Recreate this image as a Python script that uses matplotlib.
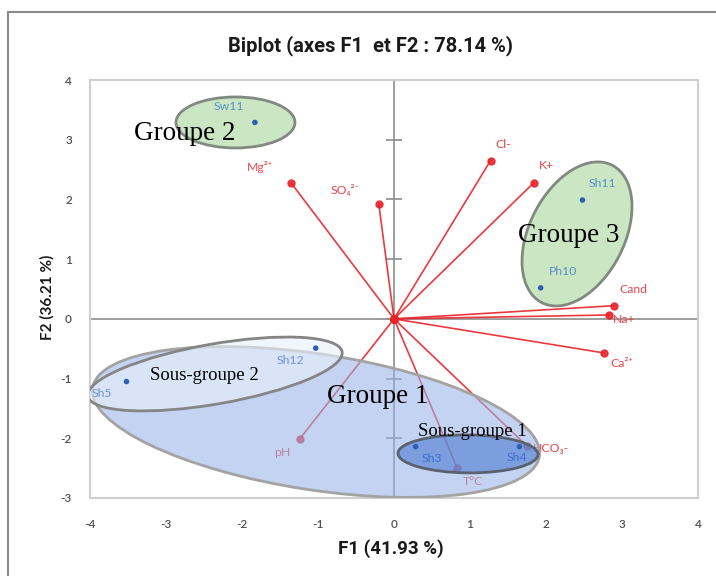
import numpy as np
import matplotlib
matplotlib.use("Agg")
import matplotlib.pyplot as plt
from matplotlib.patches import Ellipse
from matplotlib.transforms import Affine2D
from matplotlib.lines import Line2D

plt.rcParams["axes.unicode_minus"] = False

# ---------------- data ----------------
obs_names = ["Sw11", "Sh11", "Ph10", "Sh12", "Sh5", "Sh3", "Sh4"]
obs_f1 = [-1.83, 2.48, 1.93, -1.03, -3.52, 0.285, 1.65]
obs_f2 = [3.29, 1.99, 0.52, -0.49, -1.05, -2.14, -2.14]

var_names = ["Mg²⁺", "SO₄²⁻", "Cl-", "K+", "Cand", "Na+", "Ca²⁺", "HCO₃-", "T°C", "pH"]
var_f1 = [-1.35, -0.20, 1.27, 1.84, 2.89, 2.83, 2.76, 1.75, 0.83, -1.24]
var_f2 = [2.27, 1.92, 2.65, 2.28, 0.22, 0.065, -0.57, -2.13, -2.49, -2.01]

x_ticks = [-4, -3, -2, -1, 0, 1, 2, 3, 4]
y_ticks = [-3, -2, -1, 0, 1, 2, 3, 4]

title = "Biplot (axes F1  et F2 : 78.14 %)"
xlabel = "F1 (41.93 %)"
ylabel = "F2 (36.21 %)"

# ---------------- layout / style ----------------
W, H = 716, 576
fig = plt.figure(figsize=(W / 100, H / 100), dpi=100)
L, R, T, B = 90, 698, 80, 498
ax = fig.add_axes([L / W, 1 - B / H, (R - L) / W, (B - T) / H])
ax.set_xlim(-4, 4)
ax.set_ylim(-3, 4)
kx = (R - L) / 8.0   # px per unit
ky = (B - T) / 7.0

# outer frame lines (top + left)
fig.add_artist(Line2D([8 / W, 1], [1 - 12 / H, 1 - 12 / H], color="#8a8a8a", lw=1.5))
fig.add_artist(Line2D([8 / W, 8 / W], [0, 1 - 12 / H], color="#8a8a8a", lw=1.5))

for s in ax.spines.values():
    s.set_color("#cfcfcf")
    s.set_linewidth(1.5)

label_font = ["Lato", "DejaVu Sans"]
ax.set_xticks(x_ticks)
ax.set_yticks(y_ticks)
ax.tick_params(length=0, colors="#505050", labelsize=8.5)
ax.tick_params(axis="x", pad=15)
ax.tick_params(axis="y", pad=13)
for lab in ax.get_xticklabels() + ax.get_yticklabels():
    lab.set_family(label_font)
    lab.set_fontweight("semibold")

# zero lines with crossing ticks on the vertical one
ax.axhline(0, color="#8c8c8c", lw=1.2, zorder=1)
ax.axvline(0, color="#8c8c8c", lw=1.2, zorder=1)
ax.plot([0] * len(y_ticks), y_ticks, ls="none", marker="_", ms=12, mew=1.2,
        color="#8c8c8c", clip_on=False, zorder=1)

# variable vectors
red = "#e8242a"
for x, y in zip(var_f1, var_f2):
    ax.plot([0, x], [0, y], color=red, lw=1.2, alpha=0.9, zorder=2,
            marker="o", ms=5, markevery=[0, 1])

var_offsets = [(-32, 16), (-34, 14), (13, 16), (13, 17), (20, 16), (15, -5),
               (18, -11), (6, -2), (16, -14), (-18, -14)]
for name, x, y, (dx, dy) in zip(var_names, var_f1, var_f2, var_offsets):
    ha = "left" if name.startswith("HCO") else "center"
    ax.annotate(name, (x, y), xytext=(dx * 0.72, dy * 0.72), textcoords="offset points",
                ha=ha, va="center", fontsize=8.8, color="#e8474a",
                family=label_font, zorder=2.5)

# observations (above the group shapes)
ax.scatter(obs_f1, obs_f2, s=16, color="#2f5fb3", zorder=4, edgecolors="none")
obs_offsets = [(-26, 16), (20, 17), (22, 16), (-25, -12), (-25, -12), (16, -12), (-3, -11)]
obs_colors = ["#5b90c8", "#5b90c8", "#5b90c8", "#6a92d8", "#6a92d8", "#3f6fcf", "#3f6fcf"]
for name, x, y, (dx, dy), c in zip(obs_names, obs_f1, obs_f2, obs_offsets, obs_colors):
    ax.annotate(name, (x, y), xytext=(dx * 0.72, dy * 0.72), textcoords="offset points",
                ha="center", va="center", fontsize=8.8, color=c,
                family=label_font, zorder=4)

# group ellipses (centre in data units, semi-axes in px, angle in screen degrees)
def add_ellipse(cx, cy, a_px, b_px, ang, fc, alpha, ec, lw, z):
    tr = Affine2D().scale(1 / kx, 1 / ky).translate(cx, cy) + ax.transData
    e = Ellipse((0, 0), 2 * a_px, 2 * b_px, angle=ang, transform=tr,
                facecolor=matplotlib.colors.to_rgba(fc, alpha), edgecolor=ec,
                lw=lw, zorder=z)
    ax.add_patch(e)

add_ellipse(-1.026, -1.727, 226, 68, -8.7, "#98b4e8", 0.58, "#a3a3a3", 2.0, 3)
add_ellipse(-2.355, -0.923, 129, 30, 9.9, "#e9f0fb", 0.6, "#858585", 2.0, 3.1)
add_ellipse(0.974, -2.261, 70, 19, -0.5, "#4d7bd4", 0.6, "#5a6270", 2.0, 3.2)
add_ellipse(-2.086, 3.289, 59.5, 25.5, 0, "#bfe0b4", 0.8, "#808a80", 2.0, 3)
add_ellipse(2.408, 1.422, 77.2, 47.5, 62.9, "#bfe0b4", 0.8, "#808a80", 2.0, 3)

serif = ["Liberation Serif", "DejaVu Serif"]
ax.text(-2.75, 3.00, "Groupe 2", fontsize=19.5, family=serif, ha="center", va="baseline", zorder=5)
ax.text(2.30, 1.29, "Groupe 3", fontsize=19.5, family=serif, ha="center", va="baseline", zorder=5)
ax.text(-0.22, -1.41, "Groupe 1", fontsize=19.5, family=serif, ha="center", va="baseline", zorder=5)
ax.text(-2.49, -1.02, "Sous-groupe 2", fontsize=13.5, family=serif, ha="center", va="baseline", zorder=5)
ax.text(1.03, -1.97, "Sous-groupe 1", fontsize=13.5, family=serif, ha="center", va="baseline", zorder=5)

narrow = ["Roboto", "DejaVu Sans"]
fig.text(370 / W, 1 - 46 / H, title, ha="center", va="center", fontsize=14.5,
         fontweight="bold", family=narrow, color="#1a1a1a")
fig.text(391 / W, 1 - 549 / H, xlabel, ha="center", va="center", fontsize=13.5,
         fontweight="bold", family=narrow, color="#1a1a1a")
fig.text(47 / W, 1 - 297 / H, ylabel, ha="center", va="center", fontsize=11,
         fontweight="bold", family=["Lato", "DejaVu Sans"], color="#1a1a1a", rotation=90)

fig.savefig("out.png", dpi=100)
